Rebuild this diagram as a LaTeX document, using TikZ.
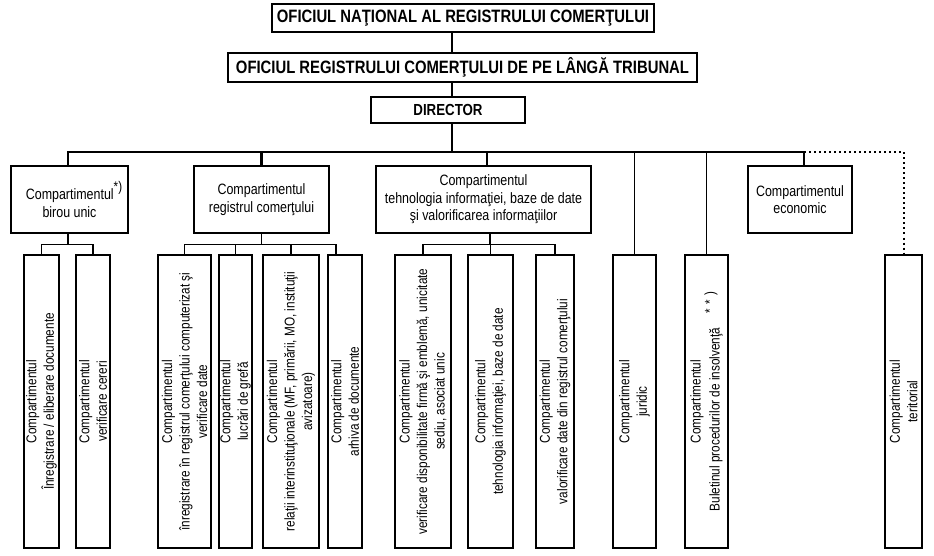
\documentclass[tikz,border=0pt]{standalone}
\usepackage{fontspec}
\setmainfont[FakeStretch=0.83]{Liberation Sans}
\newcommand{\txtf}{\fontsize{15}{17.5}\selectfont}
\newcommand{\vtxtf}{\fontsize{14.2}{17.5}\selectfont}
\newcommand{\hdrf}{\fontsize{17.9}{20}\selectfont\bfseries}
\newcommand{\dirf}{\fontsize{16}{19}\selectfont\bfseries}
\newcommand{\supmark}[2]{\raisebox{#1}{\fontsize{14}{14}\selectfont #2}}
\begin{document}
\begin{tikzpicture}[x=1pt,y=-1pt,
  hbox/.style={draw,line width=1.6pt,inner sep=0pt,align=center,font=\hdrf},
  box/.style={draw,line width=1.4pt,inner sep=0pt,align=center,font=\txtf},
  vbox/.style={draw,line width=1.3pt,inner sep=0pt,minimum height=293pt},
  vtext/.style={rotate=90,align=center,inner sep=0pt,font=\vtxtf},
  mainline/.style={line width=2.2pt},
  hline/.style={line width=1.5pt},
  subline/.style={line width=1.5pt},
  dotline/.style={line width=2pt,dash pattern=on 2pt off 3pt}]
\useasboundingbox (0,0) rectangle (934,556);
% header boxes
\node[hbox,minimum width=382pt,minimum height=28pt] (H1) at (463,18) {OFICIUL NAŢIONAL AL REGISTRULUI COMERŢULUI};
\node[hbox,minimum width=469pt,minimum height=29pt] (H2) at (462.5,67.5) {OFICIUL REGISTRULUI COMERŢULUI DE PE LÂNGĂ TRIBUNAL};
\node[hbox,font=\dirf,minimum width=154pt,minimum height=26pt] (D) at (448,110) {DIRECTOR};
% level 2
\node[box,minimum width=117pt,minimum height=67pt] (B) at (69.5,199.5) {\hphantom{*)}Compartimentul\supmark{8pt}{*)}\\birou unic};
\node[box,minimum width=135pt,minimum height=67pt] (R) at (261.5,199.5) {Compartimentul\\registrul comerţului};
\node[box,minimum width=215pt,minimum height=67pt] (T) at (483.5,199.5) {Compartimentul\\tehnologia informaţiei, baze de date\\şi valorificarea informaţiilor};
\node[box,minimum width=104pt,minimum height=67pt] (E) at (800,199.5) {Compartimentul\\economic};
% level 3
\node[vbox,minimum width=35pt] (b1) at (41.5,401.5) {};
\node[vtext] at (b1) {Compartimentul\\Înregistrare / eliberare documente};
\node[vbox,minimum width=34pt] (b2) at (93,401.5) {};
\node[vtext] at (b2) {Compartimentul\\verificare cereri};
\node[vbox,minimum width=53pt] (r1) at (184.5,401.5) {};
\node[vtext] at (r1) {Compartimentul\\înregistrare în registrul comerţului computerizat şi\\verificare date};
\node[vbox,minimum width=33pt] (r2) at (235.5,401.5) {};
\node[vtext] at (r2) {Compartimentul\\lucrări de grefă};
\node[vbox,minimum width=56pt] (r3) at (291,401.5) {};
\node[vtext] at (r3) {Compartimentul\\relaţii interinstituţionale (MF, primării, MO, instituţii\\avizatoare)};
\node[vbox,minimum width=34pt] (r4) at (345,401.5) {};
\node[vtext] at (r4) {Compartimentul\\arhiva de documente};
\node[vbox,minimum width=56pt] (t1) at (423,401.5) {};
\node[vtext] at (t1) {Compartimentul\\verificare disponibilitate firmă şi emblemă, unicitate\\sediu, asociat unic};
\node[vbox,minimum width=45pt] (t2) at (490.5,401.5) {};
\node[vtext] at (t2) {Compartimentul\\tehnologia informaţiei, baze de date};
\node[vbox,minimum width=38pt] (t3) at (555,401.5) {};
\node[vtext] at (t3) {Compartimentul\\valorificare date din registrul comerţului};
\node[vbox,minimum width=43pt] (J) at (634.5,401.5) {};
\node[vtext] at (J) {Compartimentul\\juridic};
\node[vbox,minimum width=43pt] (U) at (706.5,401.5) {};
\node[vtext] at (U) {Compartimentul\\Buletinul procedurilor de insolvenţă\hspace{14pt}\supmark{5pt}{*\hspace{5pt}*\hspace{4pt})}};
\node[vbox,minimum width=37pt] (Te) at (903.5,401.5) {};
\node[vtext] at (Te) {Compartimentul\\teritorial};
% coordinates
\coordinate (dx) at (452,0);
\coordinate (bar) at (0,152);
\coordinate (sb) at (0,244.5);
\coordinate (Bd) at ([xshift=-1.5pt]B.north);
\coordinate (Ed) at ([xshift=4pt]E.north);
\coordinate (Td) at ([xshift=3.5pt]T.north);
\coordinate (Ts) at ([xshift=6.5pt]T.south);
\coordinate (r4d) at ([xshift=-9pt]r4.north);
% header connectors
\draw[hline] (H1.south -| dx) -- (H2.north -| dx);
\draw[hline] (H2.south -| dx) -- (D.north -| dx);
\draw[mainline] (D.south -| dx) -- (dx |- bar);
% main bar
\draw[mainline] (Bd) |- (Ed |- bar) -- (Ed);
\draw[mainline] (R.north) -- (R.north |- bar);
\draw[mainline] (Td) -- (Td |- bar);
\draw[hline] (J.north) -- (J.north |- bar);
\draw[hline] (U.north) -- (U.north |- bar);
\draw[dotline] (Ed |- bar) -| (Te.north);
% birou unic subtree
\draw[subline] (B.south -| Bd) -- (Bd |- sb);
\draw[subline] (b1.north) |- (b2.north |- sb) -- (b2.north);
% registrul subtree
\draw[subline] (R.south) -- (R.south |- sb);
\draw[subline] (r1.north) |- (r4d |- sb) -- (r4d);
\draw[subline] (r2.north) -- (r2.north |- sb);
\draw[subline] (r3.north) -- (r3.north |- sb);
% tech subtree
\draw[subline] (Ts) -- (Ts |- sb);
\draw[subline] (t1.north) |- (t3.north |- sb) -- (t3.north);
\draw[subline] (t2.north) -- (t2.north |- sb);
\end{tikzpicture}
\end{document}
